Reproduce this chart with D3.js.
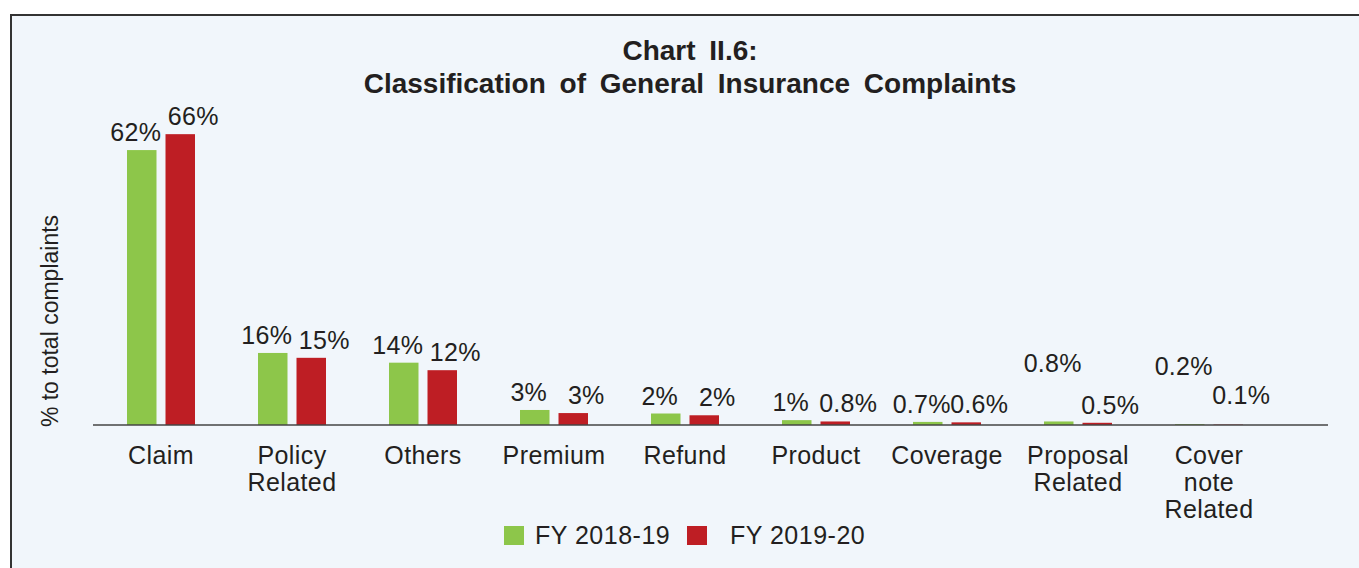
<!DOCTYPE html>
<html>
<head>
<meta charset="utf-8">
<script src="https://cdn.jsdelivr.net/npm/d3@7"></script>
<style>
  html, body { margin: 0; padding: 0; background: #fff; }
  svg { display: block; font-family: "Liberation Sans", Arial, Helvetica, sans-serif; }
</style>
</head>
<body>
<div id="chart"></div>
<script>
// categories and series values (% to total complaints)
var categories = ["Claim", "Policy\nRelated", "Others", "Premium", "Refund", "Product",
                  "Coverage", "Proposal\nRelated", "Cover\nnote\nRelated"];
var seriesNames = ["FY 2018-19", "FY 2019-20"];
var fy1819 = [62.2, 16.3, 14.1, 3.4, 2.6, 1.1, 0.7, 0.8, 0.2];
var fy1920 = [65.8, 15.2, 12.4, 2.7, 2.2, 0.8, 0.6, 0.5, 0.1];
var labels1819 = ["62%", "16%", "14%", "3%", "2%", "1%", "0.7%", "0.8%", "0.2%"];
var labels1920 = ["66%", "15%", "12%", "3%", "2%", "0.8%", "0.6%", "0.5%", "0.1%"];

var colors = ["#8dc64a", "#be1e24"];
var W = 1359, H = 568;

var svg = d3.select("#chart").append("svg")
  .attr("width", W)
  .attr("height", H);

// panel with border on top/left
svg.append("rect")
  .attr("x", 11).attr("y", 15)
  .attr("width", 1400).attr("height", 600)
  .attr("fill", "#f1f6fb")
  .attr("stroke", "#333")
  .attr("stroke-width", 2);

// title
var title = svg.append("text")
  .attr("text-anchor", "middle")
  .attr("font-weight", "bold")
  .attr("font-size", 28)
  .attr("word-spacing", 6)
  .attr("fill", "#231f20");
title.append("tspan").attr("x", 690).attr("y", 60).text("Chart II.6:");
title.append("tspan").attr("x", 690).attr("y", 93).text("Classification of General Insurance Complaints");

var baseY = 425;

var x0 = d3.scaleBand()
  .domain(categories)
  .range([95.5, 1274.5])
  .paddingInner(0.481)
  .paddingOuter(0.2405);

var x1 = d3.scaleBand()
  .domain(seriesNames)
  .range([0, x0.bandwidth()])
  .paddingInner(0.234);

var y = d3.scaleLinear()
  .domain([0, 70])
  .range([baseY, baseY - 70 * 4.42]);

var rows = categories.map(function(c, i) {
  return {cat: c, idx: i, values: [
    {s: seriesNames[0], v: fy1819[i], label: labels1819[i], k: 0},
    {s: seriesNames[1], v: fy1920[i], label: labels1920[i], k: 1}
  ]};
});

var groups = svg.selectAll("g.cat")
  .data(rows)
  .enter().append("g")
  .attr("class", "cat")
  .attr("transform", function(d) { return "translate(" + x0(d.cat) + ",0)"; });

groups.selectAll("rect")
  .data(function(d) { return d.values; })
  .enter().append("rect")
  .attr("x", function(d) { return x1(d.s); })
  .attr("y", function(d) { return y(d.v); })
  .attr("width", x1.bandwidth())
  .attr("height", function(d) { return baseY - y(d.v); })
  .attr("fill", function(d) { return colors[d.k]; });

// data labels (last categories lifted as in the original)
function lift(catIdx, k) {
  if (k === 0 && catIdx >= 7) return 40;
  if (k === 1 && catIdx === 8) return 12;
  return 0;
}

groups.selectAll("text.val")
  .data(function(d) { return d.values.map(function(v) { return Object.assign({ci: d.idx}, v); }); })
  .enter().append("text")
  .attr("class", "val")
  .attr("text-anchor", "middle")
  .attr("font-size", 25)
  .attr("letter-spacing", 0.3)
  .attr("fill", "#231f20")
  .attr("x", function(d) { return x1(d.s) + x1.bandwidth() / 2 + (d.k === 0 ? -6 : 13); })
  .attr("y", function(d) { return y(d.v) - 9 - lift(d.ci, d.k); })
  .text(function(d) { return d.label; });

// axis line
svg.append("line")
  .attr("x1", 93).attr("x2", 1328)
  .attr("y1", baseY).attr("y2", baseY)
  .attr("stroke", "#444")
  .attr("stroke-width", 1.5);

// category labels
var catText = svg.selectAll("text.catlabel")
  .data(categories)
  .enter().append("text")
  .attr("class", "catlabel")
  .attr("text-anchor", "middle")
  .attr("font-size", 25)
  .attr("letter-spacing", 0.4)
  .attr("fill", "#231f20");

catText.each(function(c) {
  var t = d3.select(this);
  c.split("\n").forEach(function(line, j) {
    t.append("tspan")
      .attr("x", x0(c) + x0.bandwidth() / 2)
      .attr("y", 464 + j * 27)
      .text(line);
  });
});

// y axis title
svg.append("text")
  .attr("transform", "translate(58,321) rotate(-90)")
  .attr("text-anchor", "middle")
  .attr("font-size", 23)
  .attr("fill", "#231f20")
  .text("% to total complaints");

// legend
var legendX = [504, 687];
var legendTextX = [535, 730];
var legend = svg.selectAll("g.legend")
  .data(seriesNames)
  .enter().append("g")
  .attr("class", "legend");

legend.append("rect")
  .attr("x", function(d, i) { return legendX[i]; })
  .attr("y", 526)
  .attr("width", 20).attr("height", 19)
  .attr("fill", function(d, i) { return colors[i]; });

legend.append("text")
  .attr("x", function(d, i) { return legendTextX[i]; })
  .attr("y", 544)
  .attr("font-size", 25)
  .attr("letter-spacing", 0.5)
  .attr("fill", "#231f20")
  .text(function(d) { return d; });
</script>
</body>
</html>
